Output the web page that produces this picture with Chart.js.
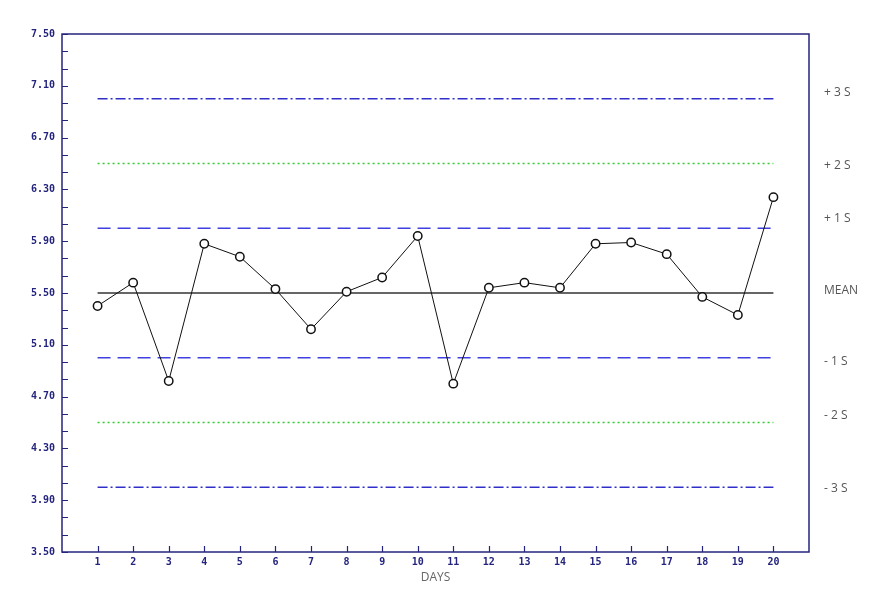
<!DOCTYPE html>
<html>
<head>
<meta charset="utf-8">
<script src="https://cdn.jsdelivr.net/npm/chart.js@4.4.0/dist/chart.umd.min.js"></script>
<style>
  html, body { margin: 0; padding: 0; background: #fff; }
  #wrap { width: 869px; height: 589px; }
</style>
</head>
<body>
<div id="wrap"><canvas id="qcChart"></canvas></div>
<script>
// days on the x axis
const days = [1,2,3,4,5,6,7,8,9,10,11,12,13,14,15,16,17,18,19,20];
const values = [5.40,5.58,4.82,5.88,5.78,5.53,5.22,5.51,5.62,5.94,4.80,5.54,5.58,5.54,5.88,5.89,5.80,5.47,5.33,6.24];
// control limits
const mean = 5.5;
const sd = 0.5;
const limitNames = ["+ 3 S","+ 2 S","+ 1 S","MEAN","- 1 S","- 2 S","- 3 S"];
const limitMultipliers = [3,2,1,0,-1,-2,-3];
// y tick labels
const yTickLabels = ["3.50","3.90","4.30","4.70","5.10","5.50","5.90","6.30","6.70","7.10","7.50"];

const navy = "#24247e";
const tickFont = { family: "DejaVu Sans Mono", size: 10, weight: "bold" };

// one flat line per limit, from first to last day
function limitLine(mult) {
    return days.map(d => ({ x: d, y: mean + mult * sd }));
}
const limitStyles = {
    "3": { color: "#3030c8", dash: [10, 3, 2, 3] },
    "2": { color: "#33cc33", dash: [2, 3] },
    "1": { color: "#4040e0", dash: [13, 7] },
    "0": { color: "#333333", dash: [] }
};

const datasets = [{
    label: "values",
    data: days.map((d, i) => ({ x: d, y: values[i] })),
    borderColor: "#111",
    borderWidth: 1,
    pointRadius: 4.2,
    pointBorderWidth: 1.5,
    pointBorderColor: "#111",
    pointBackgroundColor: "#fff",
    order: 0
}];
limitMultipliers.forEach(m => {
    const st = limitStyles[String(Math.abs(m))];
    datasets.push({
        label: "limit" + m,
        data: limitLine(m),
        borderColor: st.color,
        borderWidth: 1.3,
        borderDash: st.dash,
        pointRadius: 0,
        order: 1
    });
});

// frame, inward tick marks and the limit names on the right
const decorations = {
    id: "decorations",
    afterDraw(chart) {
        const ctx = chart.ctx;
        const a = chart.chartArea;
        const xs = chart.scales.x, ys = chart.scales.y;
        ctx.save();
        ctx.strokeStyle = navy;
        ctx.lineWidth = 1.5;
        ctx.strokeRect(a.left, a.top, a.right - a.left, a.bottom - a.top);

        ctx.lineWidth = 1.2;
        ctx.beginPath();
        // minor y ticks, three per labelled step
        const step = (ys.max - ys.min) / ((yTickLabels.length - 1) * 3);
        for (let v = ys.min; v <= ys.max + 1e-6; v += step) {
            const y = Math.round(ys.getPixelForValue(v)) + 0.5;
            ctx.moveTo(a.left, y);
            ctx.lineTo(a.left + 6, y);
        }
        days.forEach(d => {
            const x = Math.round(xs.getPixelForValue(d)) + 0.5;
            ctx.moveTo(x, a.bottom);
            ctx.lineTo(x, a.bottom - 6);
        });
        ctx.stroke();

        // names of the limits; nudges follow the original picture
        const nudge = [-6, 2, -10, -2, 4, -7, 1];
        ctx.fillStyle = "#555";
        ctx.font = "12px 'Open Sans'";
        ctx.textBaseline = "middle";
        ctx.textAlign = "left";
        limitNames.forEach((name, i) => {
            const y = ys.getPixelForValue(mean + limitMultipliers[i] * sd) + nudge[i];
            ctx.fillText(name, a.right + 15, y);
        });
        ctx.restore();
    }
};

new Chart(document.getElementById("qcChart"), {
    type: "line",
    data: { datasets: datasets },
    options: {
        responsive: true,
        maintainAspectRatio: false,
        animation: false,
        layout: { padding: { left: 0, top: 34, right: 60, bottom: 0 } },
        plugins: { legend: { display: false }, tooltip: { enabled: false } },
        scales: {
            x: {
                type: "linear",
                min: 0,
                max: 21,
                grid: { display: false, drawTicks: false },
                border: { display: false },
                afterBuildTicks: scale => { scale.ticks = days.map(d => ({ value: d })); },
                afterFit: scale => { scale.height = 37; },
                ticks: { color: navy, font: tickFont, padding: 4, maxRotation: 0, autoSkip: false },
                title: {
                    display: true,
                    text: "DAYS",
                    color: "#666",
                    font: { family: "Open Sans", size: 12 },
                    padding: { top: 0, bottom: 4 }
                }
            },
            y: {
                type: "linear",
                min: 3.5,
                max: 7.5,
                grid: { display: false, drawTicks: false },
                border: { display: false },
                afterBuildTicks: scale => { scale.ticks = yTickLabels.map(t => ({ value: parseFloat(t) })); },
                afterFit: scale => { scale.width = 62; },
                ticks: {
                    color: navy,
                    font: tickFont,
                    padding: 7,
                    autoSkip: false,
                    callback: (v, i) => yTickLabels[i]
                }
            }
        }
    },
    plugins: [decorations]
});
</script>
</body>
</html>
